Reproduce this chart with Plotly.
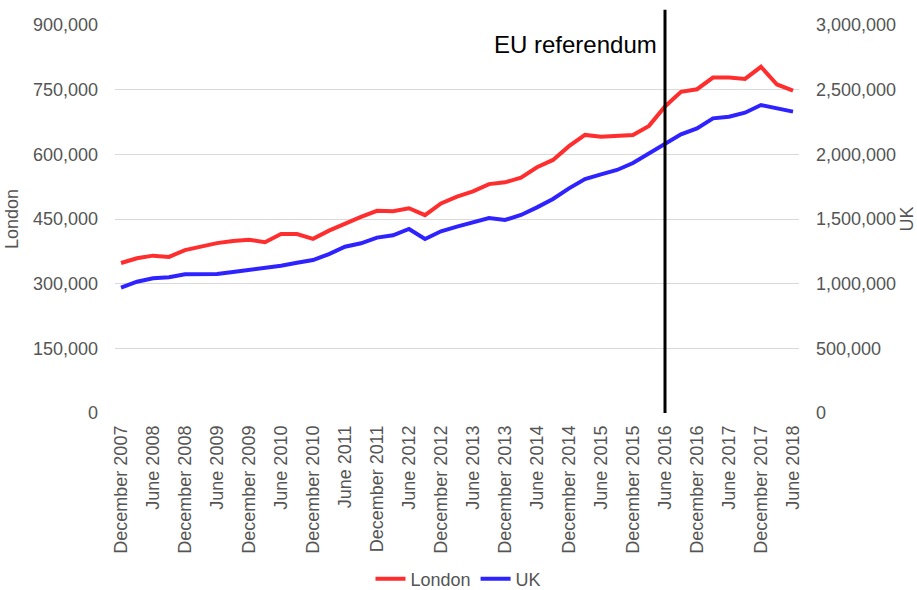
import plotly.graph_objects as go

# Quarterly periods, December 2007 .. June 2018
months = ["December", "March", "June", "September"]
periods = []
m_i, year = 0, 2007
for _ in range(43):
    periods.append(f"{months[m_i]} {year}")
    m_i = (m_i + 1) % 4
    if m_i == 1:
        year += 1

london = [348000, 359000, 365000, 362000, 378000, 387000, 394000, 399000, 402000, 396000,
          415000, 415000, 404000, 423000, 440000, 455000, 469000, 468000, 475000, 459000,
          486000, 502000, 514000, 531000, 535000, 546000, 570000, 587000, 619000, 645000,
          641000, 643000, 645000, 666000, 711000, 745000, 751000, 778000, 778000, 775000,
          803000, 762000, 748000]

uk = [969000, 1015000, 1041000, 1049000, 1072000, 1075000, 1075000, 1090000, 1106000, 1116000,
      1139000, 1162000, 1183000, 1229000, 1286000, 1312000, 1356000, 1374000, 1423000, 1345000,
      1405000, 1441000, 1474000, 1508000, 1492000, 1531000, 1590000, 1655000, 1737000, 1809000,
      1845000, 1879000, 1933000, 2008000, 2085000, 2155000, 2201000, 2278000, 2291000, 2322000,
      2381000, 2356000, 2330000]

left_ticks = [0, 150000, 300000, 450000, 600000, 750000, 900000]
right_ticks = [0, 500000, 1000000, 1500000, 2000000, 2500000, 3000000]
event_label = "EU referendum"
event_period = "June 2016"

x = list(range(len(periods)))
tick_idx = [i for i, p in enumerate(periods) if p.startswith("December") or p.startswith("June")]
tick_txt = [periods[i] for i in tick_idx]
event_x = periods.index(event_period)

FONT = "Liberation Sans, Arial, sans-serif"
GREY = "#555555"

fig = go.Figure()
fig.add_trace(go.Scatter(x=x, y=london, name="London", mode="lines",
                         line=dict(color="#ff2e2e", width=4)))
fig.add_trace(go.Scatter(x=x, y=uk, name="UK", mode="lines", yaxis="y2",
                         line=dict(color="#2e22ff", width=4)))

fig.add_shape(type="line", xref="x", yref="paper", x0=event_x, x1=event_x, y0=0, y1=1.039,
              line=dict(color="black", width=3), layer="above")
fig.add_annotation(x=event_x, xref="x", y=0.951, yref="paper", text=event_label,
                   showarrow=False, xanchor="right", yanchor="middle", xshift=-6,
                   font=dict(family=FONT, size=24, color="black"))

fig.update_layout(
    width=917, height=590,
    margin=dict(l=115, r=118, t=25, b=177),
    paper_bgcolor="white", plot_bgcolor="white",
    font=dict(family=FONT, size=18, color=GREY),
    showlegend=True,
    legend=dict(orientation="h", x=0.5, xanchor="center", xref="container",
                y=0.0186, yanchor="middle", yref="container",
                font=dict(family=FONT, size=18, color=GREY), itemwidth=30, tracegroupgap=0),
    xaxis=dict(range=[-0.375, 42.375], tickmode="array", tickvals=tick_idx, ticktext=tick_txt,
               tickangle=-90, showgrid=False, zeroline=False, showline=False, ticks="",
               automargin=False, ticklabelstandoff=8,
               tickfont=dict(family=FONT, size=18, color=GREY)),
    yaxis=dict(range=[0, 900000], tickmode="array", tickvals=left_ticks, tickformat=",",
               showgrid=True, gridcolor="#d9d9d9", gridwidth=1, zeroline=False, showline=False,
               ticks="", automargin=False, ticklabelstandoff=16,
               tickfont=dict(family=FONT, size=18, color=GREY),
               title=dict(text="London", standoff=9, font=dict(family=FONT, size=18, color=GREY))),
    yaxis2=dict(range=[0, 3000000], tickmode="array", tickvals=right_ticks, tickformat=",",
                overlaying="y", side="right", showgrid=False, zeroline=False, showline=False,
                ticks="", automargin=False, ticklabelstandoff=16,
                tickfont=dict(family=FONT, size=18, color=GREY),
                title=dict(text="UK", standoff=12, font=dict(family=FONT, size=18, color=GREY))),
)

fig.write_html("out.html")
